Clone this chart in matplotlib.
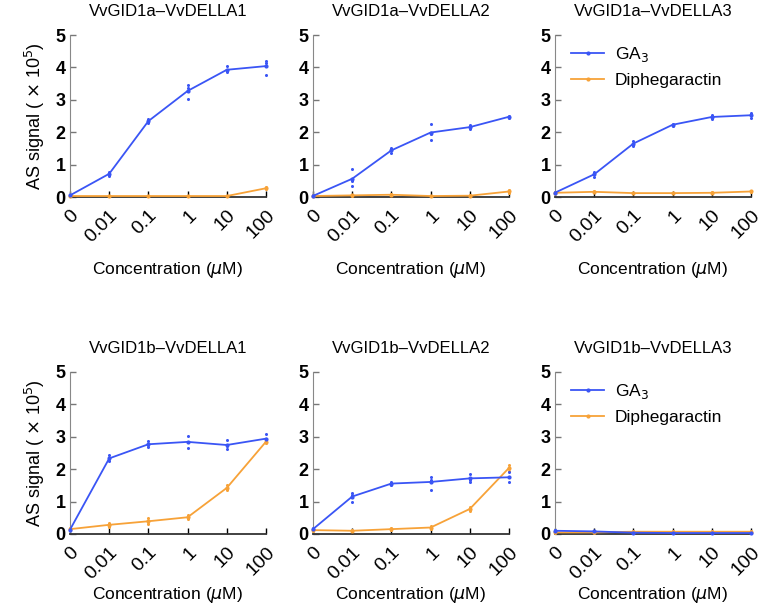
import matplotlib.pyplot as plt
import numpy as np

plt.rcParams['font.family'] = ['Liberation Sans', 'DejaVu Sans']

# categories on the x axis
conc_labels = ['0', '0.01', '0.1', '1', '10', '100']

titles = ['VvGID1a\u2013VvDELLA1', 'VvGID1a\u2013VvDELLA2', 'VvGID1a\u2013VvDELLA3',
          'VvGID1b\u2013VvDELLA1', 'VvGID1b\u2013VvDELLA2', 'VvGID1b\u2013VvDELLA3']

# replicate values (x 10^5), three per concentration
ga3_reps = [
    [[0.03, 0.05, 0.07], [0.65, 0.72, 0.78], [2.28, 2.35, 2.40], [3.02, 3.35, 3.45], [3.85, 3.88, 4.05], [3.77, 4.15, 4.20]],
    [[0.02, 0.03, 0.05], [0.33, 0.49, 0.87], [1.35, 1.45, 1.52], [1.77, 1.95, 2.25], [2.10, 2.15, 2.22], [2.45, 2.48, 2.50]],
    [[0.12, 0.13, 0.15], [0.62, 0.70, 0.78], [1.58, 1.65, 1.72], [2.20, 2.23, 2.26], [2.42, 2.47, 2.52], [2.45, 2.52, 2.60]],
    [[0.12, 0.13, 0.15], [2.25, 2.30, 2.45], [2.68, 2.75, 2.88], [2.65, 2.85, 3.03], [2.62, 2.72, 2.90], [2.85, 2.90, 3.08]],
    [[0.12, 0.15, 0.18], [1.00, 1.20, 1.27], [1.50, 1.55, 1.62], [1.37, 1.68, 1.77], [1.62, 1.68, 1.85], [1.60, 1.75, 1.90]],
    [[0.09, 0.10, 0.11], [0.07, 0.08, 0.09], [0.03, 0.04, 0.05], [0.02, 0.03, 0.04], [0.02, 0.03, 0.04], [0.02, 0.03, 0.04]],
]
diph_reps = [
    [[0.02, 0.03, 0.04], [0.02, 0.03, 0.04], [0.02, 0.03, 0.04], [0.02, 0.03, 0.04], [0.02, 0.03, 0.04], [0.24, 0.27, 0.30]],
    [[0.02, 0.03, 0.04], [0.04, 0.05, 0.06], [0.05, 0.07, 0.09], [0.02, 0.03, 0.04], [0.03, 0.04, 0.05], [0.13, 0.17, 0.21]],
    [[0.12, 0.13, 0.14], [0.14, 0.16, 0.18], [0.11, 0.12, 0.13], [0.11, 0.12, 0.13], [0.12, 0.13, 0.14], [0.15, 0.17, 0.19]],
    [[0.13, 0.15, 0.17], [0.22, 0.28, 0.35], [0.30, 0.38, 0.50], [0.45, 0.52, 0.58], [1.35, 1.42, 1.50], [2.80, 2.85, 2.90]],
    [[0.10, 0.12, 0.14], [0.08, 0.10, 0.12], [0.13, 0.15, 0.17], [0.15, 0.20, 0.25], [0.72, 0.78, 0.82], [1.95, 2.05, 2.12]],
    [[0.04, 0.05, 0.06], [0.04, 0.05, 0.06], [0.06, 0.07, 0.08], [0.06, 0.07, 0.08], [0.06, 0.07, 0.08], [0.06, 0.07, 0.08]],
]

blue = '#3a55f5'
orange = '#f7a238'

fig = plt.figure(figsize=(7.6, 6.12), dpi=100)

lefts = [70 / 760, 313 / 760, 555 / 760]
bottoms = [1 - 197 / 612, 1 - 534 / 612]
w = 196 / 760
h = 162 / 612

x = np.arange(len(conc_labels))

for i in range(6):
    row, col = divmod(i, 3)
    ax = fig.add_axes([lefts[col], bottoms[row], w, h])

    for reps, color, label in [(diph_reps[i], orange, 'Diphegaractin'), (ga3_reps[i], blue, 'GA$_3$')]:
        reps = np.array(reps)
        means = reps.mean(axis=1)
        for k in range(reps.shape[1]):
            ax.plot(x, reps[:, k], 'o', color=color, ms=2.2, mew=0, clip_on=False, zorder=3)
        ax.plot(x, means, '-', color=color, lw=1.3, marker='o', ms=2, label=label,
                clip_on=False, zorder=4)

    ax.set_xlim(0, 5)
    ax.set_ylim(0, 5)
    ax.set_xticks(x)
    ax.set_xticklabels(conc_labels, rotation=45, ha='right', rotation_mode='anchor', fontsize=14)
    ax.set_yticks(range(6))
    ax.set_yticklabels([str(v) for v in range(6)], fontsize=13, fontweight='bold')
    ax.tick_params(axis='both', direction='in', length=4, width=1)
    ax.tick_params(axis='x', pad=7)
    ax.tick_params(axis='y', pad=3, colors='#777777', labelcolor='black')
    for s in ['top', 'right']:
        ax.spines[s].set_visible(False)
    ax.spines['left'].set_color('#888888')
    ax.spines['bottom'].set_color('#333333')
    ax.spines['bottom'].set_linewidth(1.3)
    ax.set_title(titles[i], fontsize=12, pad=14)
    ax.set_xlabel('Concentration ($\\mu$M)', fontsize=12.5, labelpad=10 if row == 0 else 2)
    if col == 0:
        ax.set_ylabel('AS signal ( $\\times$ 10$^5$)', fontsize=13, labelpad=6)
    if col == 2:
        handles, labels = ax.get_legend_handles_labels()
        ax.legend(handles[::-1], labels[::-1], loc='upper left', frameon=False, fontsize=12.5,
                  handlelength=1.9, handletextpad=0.6, bbox_to_anchor=(0.03, 1.0),
                  borderaxespad=0.2)

fig.savefig('out.png', dpi=100)
